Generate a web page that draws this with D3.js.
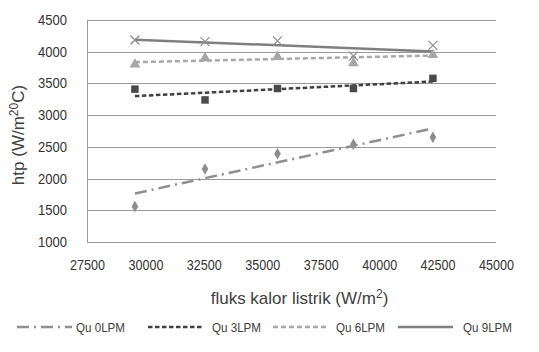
<!DOCTYPE html>
<html>
<head>
<meta charset="utf-8">
<script src="https://cdn.jsdelivr.net/npm/d3@7"></script>
<style>
  html, body { margin: 0; padding: 0; background: #fff; }
  svg { display: block; }
  text { font-family: "Liberation Sans", Arial, sans-serif; }
</style>
</head>
<body>
<svg id="chart" width="539" height="352"></svg>
<script>
// ---- data ----
const xValues = [29550, 32550, 35650, 38900, 42300];
const seriesNames = ["Qu 0LPM", "Qu 3LPM", "Qu 6LPM", "Qu 9LPM"];
const qu0 = [1560, 2150, 2390, 2540, 2650];
const qu3 = [3410, 3240, 3420, 3420, 3580];
const qu6 = [3800, 3900, 3920, 3820, 3950];
const qu9 = [4185, 4160, 4170, 3930, 4100];
// trendline end values (at first and last x)
const trend0 = [1765, 2790];
const trend3 = [3300, 3530];
const trend6 = [3835, 3940];
const trend9 = [4190, 4005];
const xTicks = [27500, 30000, 32500, 35000, 37500, 40000, 42500, 45000];
const yTicks = [1000, 1500, 2000, 2500, 3000, 3500, 4000, 4500];

const series = [
  { name: seriesNames[0], values: qu0, trend: trend0, marker: "diamond", mcolor: "#8c8c8c", lcolor: "#8f8f8f", dash: "12,5,2,5", width: 2.5 },
  { name: seriesNames[1], values: qu3, trend: trend3, marker: "square", mcolor: "#4a4a4a", lcolor: "#404040", dash: "4.5,2.5", width: 2.5 },
  { name: seriesNames[2], values: qu6, trend: trend6, marker: "triangle", mcolor: "#a6a6a6", lcolor: "#a8a8a8", dash: "5,3", width: 2.5 },
  { name: seriesNames[3], values: qu9, trend: trend9, marker: "cross", mcolor: "#8c8c8c", lcolor: "#7f7f7f", dash: null, width: 2.5 }
];

const svg = d3.select("#chart");
const pLeft = 87, pRight = 496, pTop = 20, pBottom = 242;

const x = d3.scaleLinear().domain([27500, 45000]).range([pLeft, pRight]);
const y = d3.scaleLinear().domain([1000, 4500]).range([pBottom, pTop]);

// gridlines
svg.append("g")
  .selectAll("line").data(yTicks).join("line")
  .attr("x1", pLeft).attr("x2", pRight)
  .attr("y1", d => Math.round(y(d)) + 0.5).attr("y2", d => Math.round(y(d)) + 0.5)
  .attr("stroke", "#9a9a9a").attr("stroke-width", 1);
// left axis line
svg.append("line")
  .attr("x1", pLeft + 0.5).attr("x2", pLeft + 0.5)
  .attr("y1", Math.round(y(4500)) + 0.5).attr("y2", Math.round(y(1000)) + 0.5)
  .attr("stroke", "#9a9a9a");

// y tick labels
const yAxis = d3.axisLeft(y).tickValues(yTicks).tickSize(0).tickPadding(20).tickFormat(d3.format("d"));
const gy = svg.append("g").attr("transform", `translate(${pLeft},0)`).call(yAxis);
gy.select(".domain").remove();
gy.selectAll("text").attr("font-size", 14).attr("fill", "#333")
  .attr("font-family", "Liberation Sans").attr("textLength", 29).attr("lengthAdjust", "spacingAndGlyphs");

// x tick labels
const xAxis = d3.axisBottom(x).tickValues(xTicks).tickSize(0).tickPadding(0).tickFormat(d3.format("d"));
const gx = svg.append("g").attr("transform", `translate(0,260)`).call(xAxis);
gx.select(".domain").remove();
gx.selectAll("text").attr("font-size", 14).attr("fill", "#333")
  .attr("font-family", "Liberation Sans").attr("textLength", 35).attr("lengthAdjust", "spacingAndGlyphs");

// axis titles
const xt = svg.append("text")
  .attr("x", (pLeft + pRight) / 2 + 8).attr("y", 304)
  .attr("text-anchor", "middle").attr("font-size", 17).attr("fill", "#404040");
xt.append("tspan").text("fluks kalor listrik (W/m");
xt.append("tspan").attr("font-size", 12).attr("dy", -6).text("2");
xt.append("tspan").attr("dy", 6).text(")");

const yt = svg.append("text")
  .attr("transform", `translate(24,${(pTop + pBottom) / 2 + 4}) rotate(-90)`)
  .attr("text-anchor", "middle").attr("font-size", 17).attr("fill", "#404040");
yt.append("tspan").text("htp (W/m");
yt.append("tspan").attr("font-size", 12).attr("dy", -6).text("20");
yt.append("tspan").attr("dy", 6).text("C)");

// trendlines
const line = d3.line().x(d => x(d[0])).y(d => y(d[1]));
series.forEach(s => {
  const pts = [[xValues[0], s.trend[0]], [xValues[xValues.length - 1], s.trend[1]]];
  svg.append("path").attr("d", line(pts))
    .attr("fill", "none").attr("stroke", s.lcolor).attr("stroke-width", s.width)
    .attr("stroke-dasharray", s.dash);
});

// markers
const symbolMap = { diamond: d3.symbolDiamond, square: d3.symbolSquare, triangle: d3.symbolTriangle };
series.forEach(s => {
  const g = svg.append("g");
  s.values.forEach((v, i) => {
    const cx = x(xValues[i]), cy = y(v);
    if (s.marker === "cross") {
      const r = 4.5;
      g.append("path")
        .attr("d", `M${cx - r},${cy - r}L${cx + r},${cy + r}M${cx - r},${cy + r}L${cx + r},${cy - r}`)
        .attr("stroke", s.mcolor).attr("stroke-width", 1.2).attr("fill", "none");
    } else {
      const size = s.marker === "diamond" ? 38 : s.marker === "square" ? 56 : 50;
      g.append("path")
        .attr("d", d3.symbol().type(symbolMap[s.marker]).size(size)())
        .attr("transform", `translate(${cx},${cy})`)
        .attr("fill", s.mcolor);
    }
  });
});

// legend
const legendItems = [
  { lx: 17, tx: 76 },
  { lx: 148, tx: 212 },
  { lx: 273, tx: 336 },
  { lx: 398, tx: 463 }
];
const ly = 327;
series.forEach((s, i) => {
  const it = legendItems[i];
  svg.append("line")
    .attr("x1", it.lx).attr("x2", it.lx + 55)
    .attr("y1", ly).attr("y2", ly)
    .attr("stroke", s.lcolor).attr("stroke-width", s.width)
    .attr("stroke-dasharray", s.dash);
  svg.append("text")
    .attr("x", it.tx).attr("y", ly + 4.5)
    .attr("font-size", 13).attr("fill", "#404040")
    .attr("textLength", 49).attr("lengthAdjust", "spacingAndGlyphs")
    .text(s.name);
});
</script>
</body>
</html>
